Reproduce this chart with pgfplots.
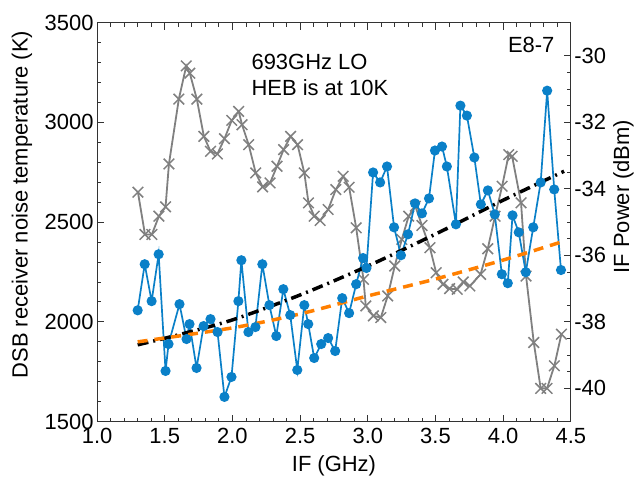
\documentclass[border=0pt]{standalone}
\usepackage{fontspec}
\setmainfont{Liberation Sans}
\usepackage{pgfplots}
\pgfplotsset{compat=1.18}
\definecolor{cblue}{RGB}{10,128,200}
\definecolor{cgray}{RGB}{128,128,128}
\definecolor{corange}{RGB}{255,127,0}
\begin{document}
\begin{tikzpicture}
\pgfplotsset{
  every axis/.append style={
    width=475pt, height=400pt, scale only axis,
    xmin=1, xmax=4.5,
    font=\fontsize{22}{26}\selectfont,
    tick align=inside,
    major tick length=7pt, minor tick length=4pt,
    /pgf/number format/assume math mode=true,
    axis line style={line width=1pt, black!80},
    every tick/.style={line width=0.9pt, black!80},
  }
}
% right axis: IF power
\begin{axis}[
  axis x line=none, axis y line*=right,
  ymin=-41, ymax=-29, ytick={-40,-38,-36,-34,-32,-30}, minor y tick num=3,
  ylabel={IF Power (dBm)},
  ylabel style={at={(rel axis cs:1.111,0.564)}, anchor=center},
]
\addplot[cgray, line width=1.8pt, mark=x, mark size=7.5pt, mark options={line width=1.5pt}] coordinates {
(1.302,-34.10) (1.354,-35.37) (1.405,-35.37) (1.457,-34.82) (1.506,-34.54)
(1.531,-33.25) (1.604,-31.30) (1.659,-30.30) (1.685,-30.52) (1.737,-31.30)
(1.789,-32.42) (1.838,-32.87) (1.889,-32.95) (1.941,-32.49) (1.995,-31.94)
(2.046,-31.67) (2.071,-32.07) (2.120,-32.67) (2.172,-33.52) (2.223,-33.94)
(2.278,-33.82) (2.329,-33.32) (2.378,-32.82) (2.430,-32.42) (2.481,-32.67)
(2.531,-33.52) (2.562,-34.42) (2.604,-34.82) (2.648,-34.95) (2.707,-34.62)
(2.764,-34.02) (2.818,-33.62) (2.862,-33.95) (2.914,-35.17) (2.968,-36.72)
(2.985,-37.52) (3.041,-37.82) (3.096,-37.87) (3.147,-37.22) (3.199,-36.32)
(3.251,-35.52) (3.302,-34.82) (3.351,-34.52) (3.400,-35.10) (3.459,-35.77)
(3.505,-36.52) (3.555,-36.87) (3.604,-37.00) (3.660,-37.02) (3.705,-36.80)
(3.754,-36.92) (3.833,-36.57) (3.886,-35.80) (3.940,-34.82) (3.992,-33.92)
(4.041,-32.97) (4.066,-33.02) (4.132,-34.42) (4.169,-36.62) (4.226,-38.62)
(4.277,-40.00) (4.324,-40.00) (4.378,-39.32) (4.430,-38.37)
};
\end{axis}
% left axis: noise temperature
\begin{axis}[
  name=ax,
  ymin=1500, ymax=3500, ytick={1500,2000,2500,3000,3500}, minor y tick num=4,
  xtick={1,1.5,2,2.5,3,3.5,4,4.5}, minor x tick num=4,
  ytick pos=left, xtick pos=both,
  xticklabel style={yshift=-3pt, /pgf/number format/.cd, fixed, fixed zerofill, precision=1},
  yticklabel style={/pgf/number format/1000 sep={}},
  xlabel={IF (GHz)},
  ylabel={DSB receiver noise temperature (K)},
  xlabel style={at={(rel axis cs:0.5,-0.111)}, anchor=center},
  ylabel style={at={(rel axis cs:-0.1585,0.544)}, anchor=center},
]
\addplot[cblue, line width=1.7pt, mark=*, mark size=4.2pt, mark options={fill=cblue, draw=cblue}] coordinates {
(1.300,2058) (1.352,2289) (1.403,2104) (1.455,2339) (1.506,1754)
(1.528,1889) (1.609,2089) (1.661,1914) (1.683,1989) (1.735,1769)
(1.787,1979) (1.838,2014) (1.890,1949) (1.941,1624) (1.993,1724)
(2.044,2104) (2.066,2309) (2.118,1949) (2.170,1974) (2.221,2289)
(2.273,2084) (2.324,1929) (2.376,2164) (2.427,2034) (2.479,1759)
(2.531,2084) (2.560,1989) (2.604,1819) (2.656,1889) (2.707,1919)
(2.759,1854) (2.811,2119) (2.862,2044) (2.914,2189) (2.965,2320)
(2.990,2270) (3.039,2749) (3.091,2699) (3.142,2779) (3.194,2474)
(3.245,2334) (3.297,2439) (3.349,2594) (3.400,2544) (3.452,2619)
(3.496,2859) (3.548,2879) (3.584,2779) (3.651,2489) (3.684,3084)
(3.732,3034) (3.787,2824) (3.835,2589) (3.887,2659) (3.938,2539)
(3.990,2239) (4.034,2194) (4.069,2534) (4.115,2449) (4.167,2249)
(4.222,2474) (4.277,2699) (4.325,3159) (4.377,2664) (4.427,2260)
};
\addplot[black, line width=3.5pt, smooth, dash pattern=on 11pt off 5pt on 2pt off 5pt] coordinates {
(1.3,1885) (1.6,1935) (2.0,2010) (2.5,2135) (3.0,2280) (3.5,2440) (4.0,2610) (4.45,2755)
};
\addplot[corange, line width=3.5pt, smooth, dash pattern=on 10pt off 7pt] coordinates {
(1.3,1900) (2.0,1970) (2.5,2040) (3.0,2130) (3.5,2215) (4.0,2310) (4.45,2405)
};
\node[anchor=west, inner sep=0pt] at (axis cs:2.14,3303) {693GHz LO};
\node[anchor=west, inner sep=0pt] at (axis cs:2.14,3173) {HEB is at 10K};
\node[anchor=east, inner sep=0pt] at (axis cs:4.38,3388) {E8-7};
\end{axis}
\path ([shift={(-97.3pt,-64.3pt)}]ax.south west) rectangle ([shift={(64.7pt,22.7pt)}]ax.north east);
\end{tikzpicture}
\end{document}
